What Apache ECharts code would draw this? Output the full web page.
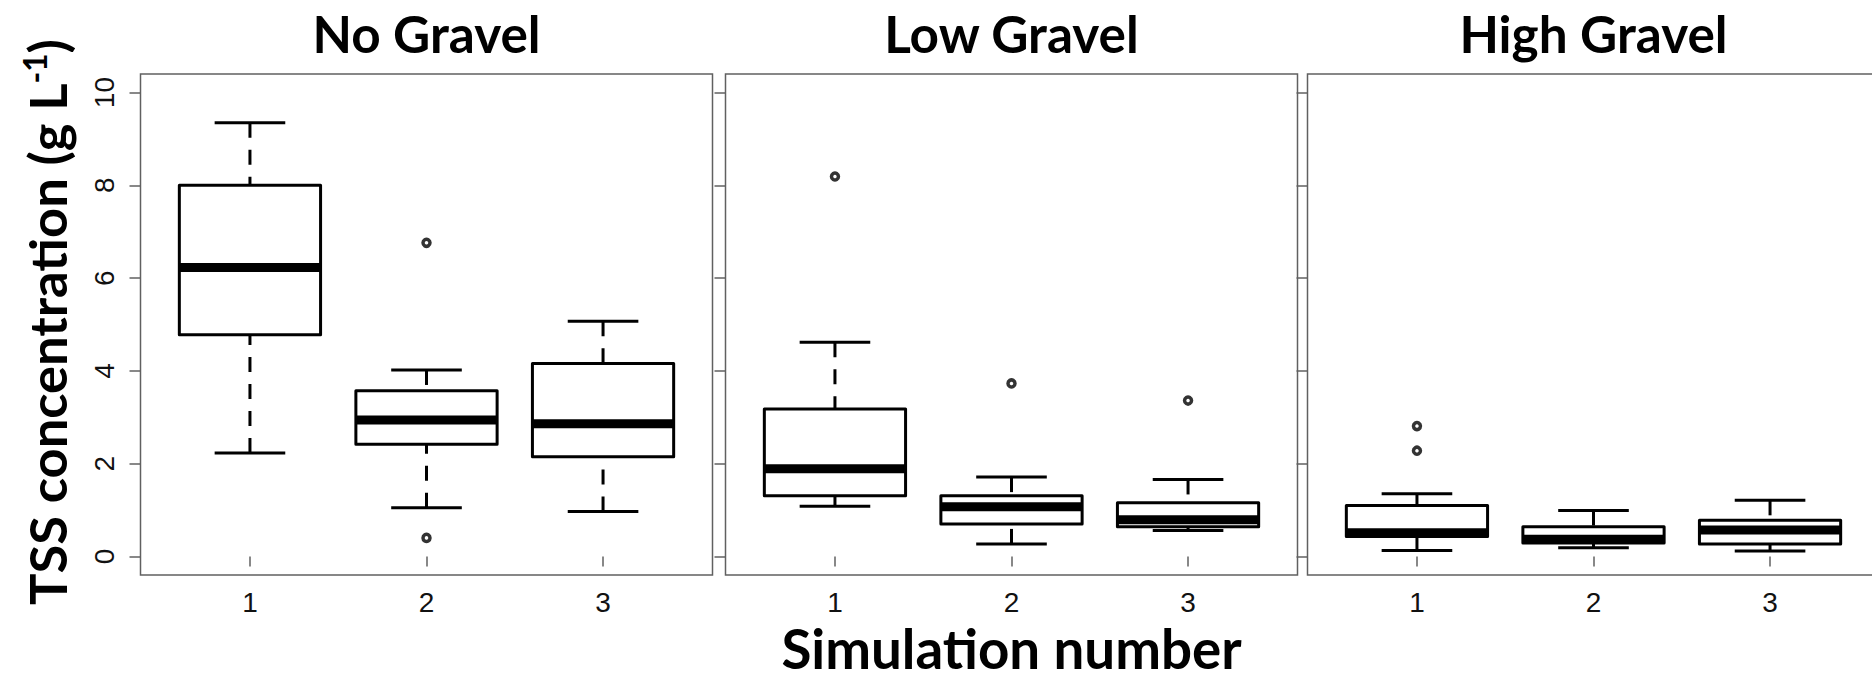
<!DOCTYPE html>
<html>
<head>
<meta charset="utf-8">
<script src="https://cdn.jsdelivr.net/npm/echarts@6/dist/echarts.min.js"></script>
<style>
html, body { margin: 0; padding: 0; background: #ffffff; }
#chart { width: 1872px; height: 683px; }
</style>
</head>
<body>
<div id="chart"></div>
<script>
// ---------------- data ----------------
const panelTitles = ['No Gravel', 'Low Gravel', 'High Gravel'];
const simulationNumbers = [1, 2, 3];
const yTickValues = [0, 2, 4, 6, 8, 10];
const xAxisTitle = 'Simulation number';
const yAxisTitleMain = 'TSS concentration (g L';
const yAxisTitleSup = '-1';
const yAxisTitleEnd = ')';

// box statistics per simulation: [lower whisker, Q1, median, Q3, upper whisker]
const noGravelBoxes = [
  [2.23, 4.78, 6.23, 8.00, 9.35],
  [1.05, 2.42, 2.94, 3.57, 4.02],
  [0.97, 2.15, 2.86, 4.16, 5.07]
];
const lowGravelBoxes = [
  [1.08, 1.31, 1.89, 3.18, 4.62],
  [0.27, 0.70, 1.07, 1.31, 1.71],
  [0.56, 0.64, 0.79, 1.16, 1.66]
];
const highGravelBoxes = [
  [0.13, 0.43, 0.51, 1.10, 1.35],
  [0.19, 0.29, 0.37, 0.64, 0.99],
  [0.12, 0.27, 0.57, 0.78, 1.21]
];
// outliers: [simulation, value]
const noGravelOutliers = [[2, 6.76], [2, 0.40]];
const lowGravelOutliers = [[1, 8.19], [2, 3.73], [3, 3.36]];
const highGravelOutliers = [[1, 2.81], [1, 2.28]];

// ---------------- layout / style ----------------
const panelBoxes = [noGravelBoxes, lowGravelBoxes, highGravelBoxes];
const panelOutliers = [noGravelOutliers, lowGravelOutliers, highGravelOutliers];
const gridLefts = [140.5, 725.5, 1307.5];
const gridTop = 74;
const gridWidth = 572;
const gridHeight = 501;
const frameColor = '#606060';
const tickFont = '"Liberation Sans", Arial, sans-serif';
const titleFamily = 'Lato';

const measureCtx = document.createElement('canvas').getContext('2d');
function textWidth(text, size) {
  measureCtx.font = 'bold ' + size + 'px ' + titleFamily;
  return measureCtx.measureText(text).width;
}
function fitSize(text, target) {
  return 100 * target / textWidth(text, 100);
}
const panelTitleSize = fitSize('No Gravel', 228);
const xTitleSize = fitSize(xAxisTitle, 460);
const yTitleWidth100 = textWidth(yAxisTitleMain + yAxisTitleEnd, 100) + textWidth(yAxisTitleSup, 60);
const yTitleSize = 100 * 566 / yTitleWidth100;

function renderBox(params, api) {
  const x = api.value(0);
  const pts = [1, 2, 3, 4, 5].map(function (i) { return api.coord([x, api.value(i)]); });
  const cx = pts[0][0];
  const unitPx = api.size([1, 0])[0];
  const hb = unitPx * 0.4;
  const hc = unitPx * 0.2;
  const yLo = pts[0][1], yQ1 = pts[1][1], yMed = pts[2][1], yQ3 = pts[3][1], yHi = pts[4][1];
  const k = '#000000';
  return {
    type: 'group',
    children: [
      { type: 'line', shape: { x1: cx, y1: yLo, x2: cx, y2: yQ1 }, style: { stroke: k, lineWidth: 3, lineDash: [15, 12] } },
      { type: 'line', shape: { x1: cx, y1: yHi, x2: cx, y2: yQ3 }, style: { stroke: k, lineWidth: 3, lineDash: [15, 12] } },
      { type: 'line', shape: { x1: cx - hc, y1: yLo, x2: cx + hc, y2: yLo }, style: { stroke: k, lineWidth: 3 } },
      { type: 'line', shape: { x1: cx - hc, y1: yHi, x2: cx + hc, y2: yHi }, style: { stroke: k, lineWidth: 3 } },
      { type: 'rect', shape: { x: cx - hb, y: yQ3, width: 2 * hb, height: yQ1 - yQ3 }, style: { fill: '#ffffff', stroke: k, lineWidth: 3, lineJoin: 'round' } },
      { type: 'line', shape: { x1: cx - hb, y1: yMed, x2: cx + hb, y2: yMed }, style: { stroke: k, lineWidth: 9, lineCap: 'butt' } }
    ]
  };
}

const grids = [], xAxes = [], yAxes = [], series = [], graphics = [];
for (let i = 0; i < 3; i++) {
  grids.push({
    left: gridLefts[i], top: gridTop, width: gridWidth, height: gridHeight,
    show: true, borderColor: frameColor, borderWidth: 1.5, backgroundColor: 'transparent',
    containLabel: false, outerBoundsMode: 'none'
  });
  xAxes.push({
    gridIndex: i, type: 'value', min: 0.38, max: 3.62,
    axisLine: { show: false }, splitLine: { show: false },
    axisTick: { show: true, customValues: simulationNumbers, length: 10, lineStyle: { color: frameColor, width: 1.5 } },
    axisLabel: { show: true, customValues: simulationNumbers, fontSize: 28, color: '#111111', fontFamily: tickFont, margin: 13 }
  });
  yAxes.push({
    gridIndex: i, type: 'value', min: -0.4, max: 10.4,
    axisLine: { show: false }, splitLine: { show: false },
    axisTick: { show: true, customValues: yTickValues, length: 11, lineStyle: { color: frameColor, width: 1.5 } },
    axisLabel: { show: i === 0, customValues: yTickValues, rotate: 90, fontSize: 28, color: '#111111', fontFamily: tickFont, margin: 22 }
  });
  series.push({
    type: 'custom', xAxisIndex: i, yAxisIndex: i,
    renderItem: renderBox,
    encode: { x: 0, y: [1, 2, 3, 4, 5] },
    data: panelBoxes[i].map(function (b, j) { return [simulationNumbers[j]].concat(b); }),
    z: 2
  });
  series.push({
    type: 'scatter', xAxisIndex: i, yAxisIndex: i,
    symbol: 'circle', symbolSize: 7,
    itemStyle: { color: '#ffffff', borderColor: '#000000', borderWidth: 3.5 },
    data: panelOutliers[i],
    z: 3
  });
  graphics.push({
    type: 'text', x: gridLefts[i] + gridWidth / 2, y: 33,
    style: {
      text: panelTitles[i], font: 'bold ' + panelTitleSize.toFixed(1) + 'px ' + titleFamily,
      fill: '#000000', textAlign: 'center', textVerticalAlign: 'middle'
    }
  });
}
graphics.push({
  type: 'text', x: gridLefts[1] + gridWidth / 2, y: 648,
  style: {
    text: xAxisTitle, font: 'bold ' + xTitleSize.toFixed(1) + 'px ' + titleFamily,
    lineHeight: 44,
    fill: '#000000', textAlign: 'center', textVerticalAlign: 'middle'
  }
});
graphics.push({
  type: 'text', x: 46, y: 322, rotation: Math.PI / 2,
  style: {
    text: '{m|' + yAxisTitleMain + '}{s|' + yAxisTitleSup + '}{m|' + yAxisTitleEnd + '}',
    rich: {
      m: { fontFamily: titleFamily, fontWeight: 'bold', fontSize: yTitleSize, lineHeight: yTitleSize, fill: '#000000', verticalAlign: 'middle' },
      s: { fontFamily: titleFamily, fontWeight: 'bold', fontSize: yTitleSize * 0.6, lineHeight: yTitleSize * 0.6, fill: '#000000', verticalAlign: 'top' }
    },
    textAlign: 'center', textVerticalAlign: 'middle'
  }
});

const chart = echarts.init(document.getElementById('chart'), null, { renderer: 'svg' });
chart.setOption({
  animation: false,
  backgroundColor: '#ffffff',
  grid: grids,
  xAxis: xAxes,
  yAxis: yAxes,
  series: series,
  graphic: graphics
});
</script>
</body>
</html>
